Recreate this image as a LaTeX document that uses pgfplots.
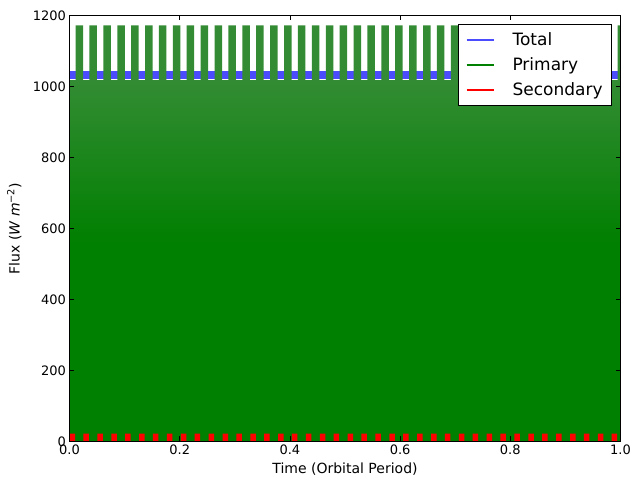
\documentclass[border=0pt]{standalone}
\usepackage{fontspec}
\setmainfont{DejaVu Sans}
\usepackage{pgfplots}
\pgfplotsset{compat=1.18}
\definecolor{mplblue}{rgb}{0.3,0.3,1}
\definecolor{mplgreen}{rgb}{0,0.5,0}
\definecolor{peakgreen}{rgb}{0.2,0.55,0.2}
\definecolor{topgreen}{rgb}{0.2,0.55,0.2}
\begin{document}
\begin{tikzpicture}
\useasboundingbox (-69.5pt,-35.5pt) rectangle (563.5pt,441.5pt);
\begin{axis}[
  at={(0pt,0pt)}, anchor=south west,
  width=551pt, height=426pt, scale only axis,
  xmin=0, xmax=1, ymin=0, ymax=1200,
  axis on top,
  xtick={0,0.2,0.4,0.6,0.8,1}, xticklabels={0.0,0.2,0.4,0.6,0.8,1.0},
  ytick={0,200,400,600,800,1000,1200}, yticklabels={0,200,400,600,800,1000,1200},
  tick align=inside, major tick length=5pt,
  tick style={black, line width=0.8pt},
  axis line style={black, line width=0.9pt},
  tick label style={font=\fontsize{13}{15}\selectfont},
  xlabel={Time (Orbital Period)},
  ylabel={Flux ({\itshape W m}\textsuperscript{−2})},
  label style={font=\fontsize{14}{16}\selectfont},
  xlabel style={at={(axis description cs:0.5,-0.0657)}, anchor=center},
  ylabel style={at={(axis description cs:-0.1,0.5)}, anchor=center},
  legend image code/.code={\draw[line width=1.8pt, #1] (0pt,0pt) -- (27pt,0pt);},
  legend style={at={(0.9846,0.98)}, anchor=north east, draw=black, line width=0.9pt,
    font=\fontsize{17}{20}\selectfont, inner xsep=7pt, inner ysep=6.5pt,
    row sep=6.5pt, column sep=16pt, cells={anchor=west}},
]
% Total
\addplot[forget plot, mplblue, line width=8pt] coordinates {(0,1031) (1,1031)};
% Primary: dense oscillation (peaks + base band)
\addplot[forget plot, ybar, bar shift=0pt, bar width=7.5pt, draw=none, fill=peakgreen] coordinates {
(0.0178,1172) (0.0430,1172) (0.0682,1172) (0.0935,1172) (0.1187,1172)
(0.1439,1172) (0.1692,1172) (0.1944,1172) (0.2196,1172) (0.2448,1172)
(0.2701,1172) (0.2953,1172) (0.3205,1172) (0.3457,1172) (0.3710,1172)
(0.3962,1172) (0.4214,1172) (0.4466,1172) (0.4719,1172) (0.4971,1172)
(0.5223,1172) (0.5476,1172) (0.5728,1172) (0.5980,1172) (0.6232,1172)
(0.6485,1172) (0.6737,1172) (0.6989,1172) (0.7241,1172) (0.7494,1172)
(0.7746,1172) (0.7998,1172) (0.8251,1172) (0.8503,1172) (0.8755,1172)
(0.9007,1172) (0.9260,1172) (0.9512,1172) (0.9764,1172) (1.0016,1172)
};
\addplot[forget plot, draw=none, fill=mplgreen] coordinates {(0,0) (0,560) (1,560) (1,0)} -- cycle;
\addplot[forget plot, draw=none, top color=topgreen, bottom color=mplgreen] coordinates {(0,559) (0,1018) (1,1018) (1,559)} -- cycle;
% Secondary
\addplot[forget plot, ybar, bar shift=0pt, bar width=5.5pt, draw=none, fill=red] coordinates {
(0.0052,22) (0.0304,22) (0.0556,22) (0.0809,22) (0.1061,22)
(0.1313,22) (0.1565,22) (0.1818,22) (0.2070,22) (0.2322,22)
(0.2574,22) (0.2827,22) (0.3079,22) (0.3331,22) (0.3584,22)
(0.3836,22) (0.4088,22) (0.4340,22) (0.4593,22) (0.4845,22)
(0.5097,22) (0.5349,22) (0.5602,22) (0.5854,22) (0.6106,22)
(0.6359,22) (0.6611,22) (0.6863,22) (0.7115,22) (0.7368,22)
(0.7620,22) (0.7872,22) (0.8124,22) (0.8377,22) (0.8629,22)
(0.8881,22) (0.9134,22) (0.9386,22) (0.9638,22) (0.9890,22)
};
\addlegendimage{draw=mplblue}\addlegendentry{Total}
\addlegendimage{draw=mplgreen}\addlegendentry{Primary}
\addlegendimage{draw=red}\addlegendentry{Secondary}
\end{axis}
\end{tikzpicture}
\end{document}
